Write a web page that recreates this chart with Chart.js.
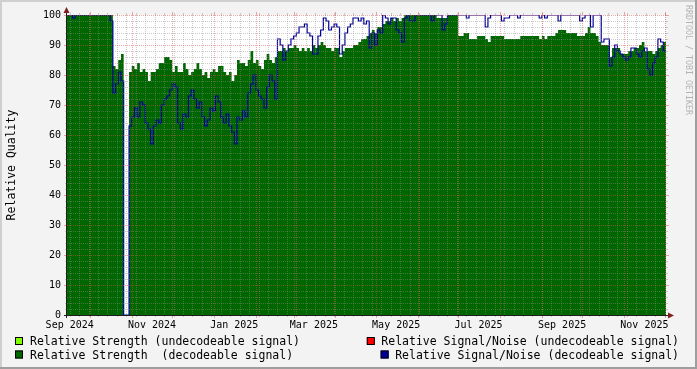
<!DOCTYPE html>
<html>
<head>
<meta charset="utf-8">
<title>Relative Quality</title>
<script src="https://cdn.jsdelivr.net/npm/chart.js@4.4.1/dist/chart.umd.min.js"></script>
<style>
  html, body { margin: 0; padding: 0; background: #f3f3f3; }
  canvas { display: block; }
</style>
</head>
<body>
<canvas id="qualityChart" width="697" height="369"></canvas>
<script>
// graph window starts 2024-09-14, one sample every 2 days
const START = Date.UTC(2024, 8, 14);
const STEP_DAYS = 2;
const SPAN_DAYS = 444;

// relative strength (decodeable signal)
const strength = [
  100, 100, 100, 100, 100, 100, 100, 100, 100, 100,
  100, 100, 100, 100, 100, 100, 100, 83, 82, 85,
  87, 0, 0, 81, 83, 82, 84, 81, 82, 81,
  78, 81, 81, 82, 84, 84, 86, 86, 85, 81,
  83, 81, 81, 84, 82, 80, 81, 82, 84, 82,
  80, 81, 79, 81, 82, 81, 83, 83, 81, 80,
  81, 78, 80, 85, 84, 84, 83, 85, 88, 84,
  85, 83, 82, 85, 87, 85, 84, 86, 88, 88,
  89, 88, 89, 89, 90, 89, 88, 89, 88, 89,
  88, 90, 89, 90, 91, 90, 89, 89, 88, 89,
  89, 86, 88, 89, 89, 89, 90, 90, 91, 92,
  92, 93, 94, 95, 94, 96, 96, 97, 98, 98,
  99, 98, 99, 98, 99, 100, 100, 100, 100, 100,
  100, 100, 100, 100, 100, 100, 100, 99, 99, 99,
  99, 100, 100, 100, 100, 93, 93, 94, 94, 92,
  92, 92, 93, 93, 93, 92, 91, 93, 93, 93,
  93, 93, 92, 92, 92, 92, 92, 92, 93, 93,
  93, 93, 93, 93, 93, 92, 93, 92, 93, 93,
  93, 94, 95, 95, 95, 94, 94, 94, 94, 93,
  93, 93, 94, 96, 94, 94, 93, 91, 90, 90,
  90, 86, 89, 89, 89, 87, 87, 87, 88, 88,
  89, 89, 90, 91, 88, 88, 88, 87, 88, 89,
  90, 91
];

// relative signal/noise (decodeable signal)
const snr = [
  100, 100, 99, 100, 100, 100, 100, 100, 100, 100,
  100, 100, 100, 100, 100, 100, 98, 74, 77, 81,
  78, 0, 0, 63, 66, 69, 66, 71, 70, 64,
  62, 57, 63, 65, 64, 70, 72, 73, 75, 77,
  76, 64, 62, 67, 66, 73, 75, 72, 69, 71,
  66, 63, 65, 69, 68, 73, 71, 66, 64, 67,
  63, 61, 57, 66, 65, 68, 66, 74, 77, 80,
  75, 73, 72, 69, 76, 80, 78, 72, 92, 90,
  85, 88, 90, 92, 93, 94, 96, 96, 97, 94,
  93, 87, 87, 93, 95, 99, 98, 95, 96, 97,
  96, 87, 90, 94, 96, 97, 99, 99, 98, 99,
  97, 98, 89, 94, 90, 95, 94, 100, 99, 97,
  99, 99, 95, 94, 91, 99, 100, 98, 98, 100,
  100, 100, 100, 100, 100, 98, 100, 100, 100, 95,
  97, 100, 100, 100, 100, 100, 100, 100, 99, 100,
  100, 100, 100, 100, 100, 96, 99, 100, 100, 100,
  100, 98, 99, 99, 100, 100, 100, 99, 100, 100,
  100, 100, 100, 100, 100, 99, 100, 99, 100, 100,
  100, 100, 98, 100, 100, 100, 100, 100, 100, 100,
  98, 99, 100, 100, 96, 100, 100, 100, 91, 92,
  92, 83, 86, 90, 88, 87, 86, 85, 86, 89,
  89, 87, 86, 88, 89, 82, 80, 84, 86, 92,
  91, 88
];

const yTicks = [0, 10, 20, 30, 40, 50, 60, 70, 80, 90, 100];
const yMinorStep = 2;
const monthStarts = ['2024-10-01', '2024-11-01', '2024-12-01', '2025-01-01', '2025-02-01',
  '2025-03-01', '2025-04-01', '2025-05-01', '2025-06-01', '2025-07-01', '2025-08-01',
  '2025-09-01', '2025-10-01', '2025-11-01', '2025-12-01'];
const firstMonday = '2024-09-16';
const xLabels = ['Sep 2024', 'Nov 2024', 'Jan 2025', 'Mar 2025', 'May 2025', 'Jul 2025', 'Sep 2025', 'Nov 2025'];
const xLabelDates = ['2024-09-16', '2024-11-16', '2025-01-16', '2025-03-16', '2025-05-16', '2025-07-16', '2025-09-16', '2025-11-16'];

const legendLeft = ['Relative Strength (undecodeable signal)', 'Relative Strength  (decodeable signal)'];
const legendLeftColors = ['#7fff00', '#006600'];
const legendRight = ['Relative Signal/Noise (undecodeable signal)', 'Relative Signal/Noise (decodeable signal)'];
const legendRightColors = ['#ff0000', '#000099'];

const FONT = '"DejaVu Sans Mono", "Liberation Mono", monospace';

function dayOf(s) {
  return (Date.parse(s + 'T00:00:00Z') - START) / 86400000;
}

function toPoints(values) {
  const pts = values.map((v, i) => ({ x: i * STEP_DAYS, y: v }));
  pts.push({ x: values.length * STEP_DAYS, y: values[values.length - 1] });
  return pts;
}

const rrdLook = {
  id: 'rrdLook',
  beforeDraw(chart) {
    const { ctx, chartArea: a, width, height } = chart;
    ctx.save();
    ctx.fillStyle = '#f3f3f3';
    ctx.fillRect(0, 0, width, height);
    ctx.fillStyle = '#cfcfcf';
    ctx.fillRect(0, 0, width, 2);
    ctx.fillRect(0, 0, 2, height);
    ctx.fillStyle = '#9e9e9e';
    ctx.fillRect(0, height - 2, width, 2);
    ctx.fillRect(width - 2, 0, 2, height);
    ctx.fillStyle = '#ffffff';
    ctx.fillRect(a.left, a.top, a.right - a.left, a.bottom - a.top);
    ctx.restore();
  },
  afterDatasetsDraw(chart) {
    const { ctx, chartArea: a } = chart;
    const xs = chart.scales.x, ys = chart.scales.y;
    const px = d => Math.round(xs.getPixelForValue(d)) + 0.5;
    const py = v => Math.round(ys.getPixelForValue(v)) + 0.5;
    const line = (x1, y1, x2, y2) => { ctx.beginPath(); ctx.moveTo(x1, y1); ctx.lineTo(x2, y2); ctx.stroke(); };
    ctx.save();
    ctx.lineWidth = 1;

    // minor grid
    const minorCol = 'rgba(143,143,143,0.45)';
    ctx.strokeStyle = minorCol;
    ctx.setLineDash([1, 1]);
    for (let v = 0; v <= 100; v += yMinorStep) {
      if (v % 10 === 0) continue;
      line(a.left, py(v), a.right, py(v));
    }
    for (let d = dayOf(firstMonday); d < SPAN_DAYS; d += 7) {
      line(px(d), a.top, px(d), a.bottom);
    }
    ctx.setLineDash([]);
    for (let v = 0; v <= 100; v += yMinorStep) {
      if (v % 10 === 0) continue;
      line(a.left - 2, py(v), a.left, py(v));
      line(a.right, py(v), a.right + 2, py(v));
    }
    for (let d = dayOf(firstMonday); d < SPAN_DAYS; d += 7) {
      line(px(d), a.bottom, px(d), a.bottom + 2);
      line(px(d), a.top - 2, px(d), a.top);
    }

    // major grid
    const majorCol = 'rgba(222,80,80,0.5)';
    ctx.strokeStyle = majorCol;
    ctx.setLineDash([1, 1]);
    yTicks.forEach(v => line(a.left, py(v), a.right, py(v)));
    monthStarts.forEach(s => line(px(dayOf(s)), a.top, px(dayOf(s)), a.bottom));
    ctx.setLineDash([]);
    yTicks.forEach(v => {
      line(a.left - 3, py(v), a.left, py(v));
      line(a.right, py(v), a.right + 3, py(v));
    });
    monthStarts.forEach(s => {
      line(px(dayOf(s)), a.bottom, px(dayOf(s)), a.bottom + 3);
      line(px(dayOf(s)), a.top - 3, px(dayOf(s)), a.top);
    });

    // axes
    ctx.strokeStyle = '#1f1f1f';
    line(a.left - 0.5, a.bottom + 3, a.left - 0.5, a.top - 6);
    line(a.left - 3, a.bottom + 0.5, a.right + 4, a.bottom + 0.5);
    ctx.fillStyle = '#801f1f';
    ctx.beginPath();
    ctx.moveTo(a.left - 0.5, a.top - 8);
    ctx.lineTo(a.left - 3.5, a.top - 2);
    ctx.lineTo(a.left + 2.5, a.top - 2);
    ctx.closePath();
    ctx.fill();
    ctx.beginPath();
    ctx.moveTo(a.right + 8, a.bottom + 0.5);
    ctx.lineTo(a.right + 2, a.bottom - 2.5);
    ctx.lineTo(a.right + 2, a.bottom + 3.5);
    ctx.closePath();
    ctx.fill();

    // tick labels
    ctx.fillStyle = '#000000';
    ctx.font = '10px ' + FONT;
    ctx.textAlign = 'right';
    ctx.textBaseline = 'middle';
    yTicks.forEach(v => ctx.fillText(String(v), a.left - 6, ys.getPixelForValue(v)));
    ctx.textAlign = 'center';
    ctx.textBaseline = 'alphabetic';
    xLabels.forEach((t, i) => ctx.fillText(t, xs.getPixelForValue(dayOf(xLabelDates[i])), a.bottom + 13));

    // axis title
    ctx.font = '11.5px ' + FONT;
    ctx.save();
    ctx.translate(15, (a.top + a.bottom) / 2);
    ctx.rotate(-Math.PI / 2);
    ctx.textAlign = 'center';
    ctx.fillText('Relative Quality', 0, 0);
    ctx.restore();

    // legend
    const rows = [345, 358.5];
    const box = (x, y, col) => {
      ctx.fillStyle = col;
      ctx.fillRect(x, y - 8, 8, 8);
      ctx.strokeStyle = '#000000';
      ctx.strokeRect(x + 0.5, y - 7.5, 7, 7);
    };
    ctx.textAlign = 'left';
    legendLeft.forEach((t, i) => {
      box(15, rows[i], legendLeftColors[i]);
      ctx.fillStyle = '#000000';
      ctx.fillText(t, 30, rows[i]);
    });
    ctx.textAlign = 'right';
    legendRight.forEach((t, i) => {
      const w = ctx.measureText(t).width;
      box(679 - w - 14.5, rows[i], legendRightColors[i]);
      ctx.fillStyle = '#000000';
      ctx.fillText(t, 679, rows[i]);
    });

    // watermark
    ctx.save();
    ctx.fillStyle = '#b4b4b4';
    ctx.font = '8.3px ' + FONT;
    ctx.translate(686, 5);
    ctx.rotate(Math.PI / 2);
    ctx.textAlign = 'left';
    ctx.textBaseline = 'alphabetic';
    ctx.fillText('RRDTOOL / TOBI OETIKER', 0, 0);
    ctx.restore();

    ctx.restore();
  }
};

new Chart(document.getElementById('qualityChart'), {
  type: 'line',
  data: {
    datasets: [
      {
        label: 'Relative Signal/Noise (decodeable signal)',
        data: toPoints(snr),
        stepped: true,
        borderColor: '#000099',
        borderWidth: 1.2,
        pointRadius: 0,
        fill: false
      },
      {
        label: 'Relative Strength  (decodeable signal)',
        data: toPoints(strength),
        stepped: true,
        borderWidth: 0,
        borderColor: 'rgba(0,0,0,0)',
        backgroundColor: '#006600',
        pointRadius: 0,
        fill: 'origin'
      }
    ]
  },
  options: {
    responsive: false,
    animation: false,
    devicePixelRatio: 1,
    layout: { padding: { left: 67, right: 31, top: 15, bottom: 54 } },
    plugins: { legend: { display: false }, tooltip: { enabled: false } },
    scales: {
      x: { type: 'linear', min: 0, max: SPAN_DAYS, display: false },
      y: { min: 0, max: 100, display: false }
    }
  },
  plugins: [rrdLook]
});
</script>
</body>
</html>
